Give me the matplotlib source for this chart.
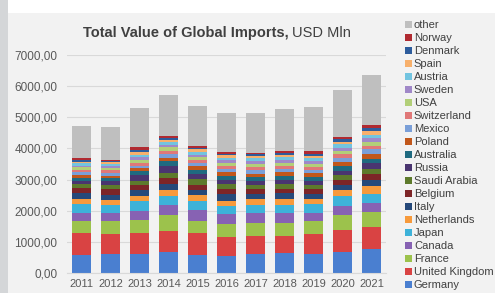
import matplotlib
matplotlib.use("Agg")
import matplotlib.pyplot as plt
from matplotlib.patches import Rectangle
from matplotlib.ticker import FuncFormatter, MultipleLocator
import numpy as np

plt.rcParams['font.family'] = ['Liberation Sans', 'DejaVu Sans']

years = ['2011', '2012', '2013', '2014', '2015', '2016', '2017', '2018', '2019', '2020', '2021']

# stack order, bottom to top
germany     = [580, 600, 610, 680, 580, 560, 610, 630, 600, 690, 770]
uk          = [690, 640, 670, 670, 700, 580, 590, 570, 650, 700, 720]
france      = [410, 420, 430, 500, 400, 420, 400, 400, 410, 460, 480]
canada      = [260, 260, 270, 320, 330, 330, 340, 320, 270, 290, 270]
japan       = [280, 270, 340, 300, 310, 250, 250, 270, 270, 320, 300]
netherlands = [160, 170, 160, 190, 180, 180, 180, 180, 180, 220, 260]
italy       = [180, 160, 190, 200, 170, 220, 170, 190, 170, 160, 190]
belgium     = [170, 170, 140, 190, 160, 160, 150, 150, 160, 160, 190]
saudi       = [130, 130, 160, 160, 180, 160, 150, 150, 130, 140, 170]
russia      = [110, 130, 170, 220, 160, 140, 130, 130, 130, 150, 170]
australia   = [90, 90, 130, 160, 140, 130, 110, 130, 120, 140, 140]
poland      = [80, 90, 90, 110, 110, 110, 110, 110, 110, 130, 160]
mexico      = [90, 90, 90, 120, 110, 110, 110, 110, 110, 140, 160]
switzerland = [80, 80, 90, 100, 90, 90, 100, 110, 100, 110, 100]
usa         = [80, 80, 90, 110, 90, 90, 100, 90, 100, 110, 140]
sweden      = [60, 70, 90, 90, 90, 90, 90, 90, 90, 100, 110]
austria     = [70, 60, 80, 80, 90, 80, 90, 90, 90, 110, 110]
spain       = [60, 40, 80, 80, 80, 80, 80, 80, 80, 90, 110]
denmark     = [60, 40, 80, 50, 50, 50, 50, 60, 60, 70, 90]
norway      = [50, 40, 90, 60, 60, 60, 50, 60, 80, 90, 100]
other       = [1020, 1060, 1260, 1340, 1270, 1250, 1280, 1330, 1410, 1490, 1620]

series = [
    ('Germany', germany, '#4a7fd0'),
    ('United Kingdom', uk, '#d94343'),
    ('France', france, '#9cc24c'),
    ('Canada', canada, '#8762b3'),
    ('Japan', japan, '#3db2d9'),
    ('Netherlands', netherlands, '#f79a3c'),
    ('Italy', italy, '#26497a'),
    ('Belgium', belgium, '#7d2527'),
    ('Saudi Arabia', saudi, '#5d7a2c'),
    ('Russia', russia, '#4a3570'),
    ('Australia', australia, '#1f6a80'),
    ('Poland', poland, '#c1571b'),
    ('Mexico', mexico, '#7a9fd8'),
    ('Switzerland', switzerland, '#e07878'),
    ('USA', usa, '#b2cf78'),
    ('Sweden', sweden, '#a088c8'),
    ('Austria', austria, '#72c4e0'),
    ('Spain', spain, '#f7b06c'),
    ('Denmark', denmark, '#2d5c9c'),
    ('Norway', norway, '#b02a31'),
    ('other', other, '#bfbfbf'),
]

fig = plt.figure(figsize=(4.95, 2.93), dpi=100)
fig.patch.set_facecolor('#f2f2f2')
fig.patches.append(Rectangle((0, 1 - 13 / 293), 1, 13 / 293, transform=fig.transFigure,
                             facecolor='white', edgecolor='none', zorder=0))
fig.patches.append(Rectangle((0, 0), 8 / 495, 1, transform=fig.transFigure,
                             facecolor='#d4d6d8', edgecolor='none', zorder=0))

ax = fig.add_axes([67 / 495, 1 - 273 / 293, 319 / 495, 218 / 293])
ax.set_facecolor('#f2f2f2')

x = np.arange(len(years))
bottom = np.zeros(len(years))
handles = []
for name, vals, col in series:
    b = ax.bar(x, vals, 0.65, bottom=bottom, color=col, label=name, zorder=2)
    handles.append(b)
    bottom += np.array(vals)

ax.set_ylim(0, 7000)
ax.set_xlim(-0.5, len(years) - 0.5)
ax.yaxis.set_major_locator(MultipleLocator(1000))
ax.yaxis.set_major_formatter(FuncFormatter(lambda v, p: f"{v:.2f}".replace('.', ',')))
ax.set_xticks(x)
ax.set_xticklabels(years)
ax.grid(axis='y', color='#d9d9d9', linewidth=0.8, zorder=0)
for s in ['top', 'right', 'left']:
    ax.spines[s].set_visible(False)
ax.spines['bottom'].set_color('#d9d9d9')
ax.tick_params(axis='x', length=0, labelsize=8, colors='#595959', pad=4)
ax.tick_params(axis='y', length=0, labelsize=8.5, colors='#595959', pad=7)

# title: bold part + regular part right after it
t1 = fig.text(83 / 495, 1 - 33 / 293, 'Total Value of Global Imports,', fontsize=10.5,
              fontweight='bold', color='#404040', va='center', ha='left')
fig.canvas.draw()
bb = t1.get_window_extent()
fig.text(bb.x1 / fig.bbox.width + 3 / 495, 1 - 33 / 293, 'USD Mln', fontsize=10.5,
         color='#404040', va='center', ha='left')

leg = fig.legend(handles[::-1], [s[0] for s in series][::-1], loc='upper left',
                 bbox_to_anchor=(405 / 495, 1 - 20 / 293), frameon=False, fontsize=8,
                 handlelength=0.6, handleheight=0.6, handletextpad=0.2,
                 labelspacing=0.27, borderpad=0, borderaxespad=0)
for t in leg.get_texts():
    t.set_color('#404040')

fig.savefig('out.png', dpi=100, facecolor=fig.get_facecolor())
